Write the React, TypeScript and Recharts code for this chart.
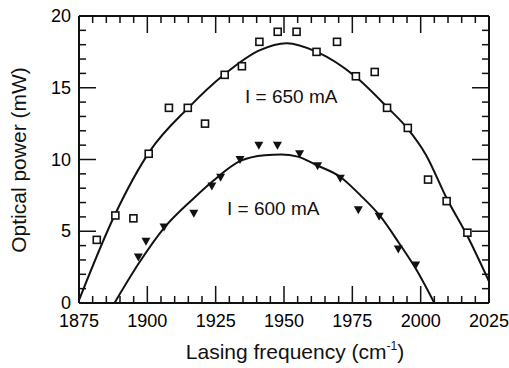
import { ComposedChart, Line, Scatter, XAxis, YAxis } from "recharts";

// measured points, I = 650 mA (squares)
const freq650 = [1881.5, 1888.3, 1894.9, 1900.5, 1907.9, 1914.8, 1921.1, 1928.3, 1934.6, 1941, 1947.7, 1954.6, 1961.9, 1969.4, 1976.3, 1983.2, 1987.7, 1995.3, 2002.7, 2009.5, 2017.1];
const power650 = [4.4, 6.1, 5.9, 10.4, 13.6, 13.6, 12.5, 15.9, 16.5, 18.2, 18.9, 18.9, 17.5, 18.2, 15.8, 16.1, 13.6, 12.2, 8.6, 7.1, 4.9];

// measured points, I = 600 mA (triangles)
const freq600 = [1896.7, 1899.5, 1906.1, 1917, 1923.6, 1926.8, 1933.9, 1940.8, 1947.6, 1955.7, 1962.3, 1970.6, 1977.2, 1984.8, 1991.8, 1998.2];
const power600 = [3.2, 4.3, 5.3, 6.25, 8.15, 8.76, 10.0, 11.0, 11.0, 10.4, 9.57, 8.7, 6.5, 6.04, 3.76, 2.65];

// fitted curves
const fit650X = [1875, 1888, 1901, 1915, 1928, 1941, 1951, 1962, 1976, 1988, 1995, 2002, 2009.5, 2017, 2025];
const fit650Y = [0.2, 6.1, 10.6, 13.6, 15.9, 17.6, 18.1, 17.5, 15.8, 13.6, 12.2, 10.3, 7.3, 4.7, 1.5];
const fit600X = [1888, 1897, 1906, 1917, 1924, 1934, 1943, 1949, 1955, 1962, 1970.5, 1978, 1985, 1992, 1998.5, 2005];
const fit600Y = [0, 2.8, 5.2, 7.3, 8.5, 9.9, 10.3, 10.35, 10.2, 9.6, 8.8, 7.5, 6.1, 4.2, 2.3, 0];

const xMajor = [1875, 1900, 1925, 1950, 1975, 2000, 2025];
const yMajor = [0, 5, 10, 15, 20];
const xTicks: number[] = [];
for (let v = 1875; v <= 2025; v += 5) xTicks.push(v);
const yTicks: number[] = [];
for (let v = 0; v <= 20; v += 1) yTicks.push(v);

const zip = (xs: number[], ys: number[]) => xs.map((x, i) => ({ x, y: ys[i] }));
const pts650 = zip(freq650, power650);
const pts600 = zip(freq600, power600);
const curve650 = zip(fit650X, fit650Y);
const curve600 = zip(fit600X, fit600Y);

const W = 509;
const H = 368;
const INK = "#111";
const FONT = "'Liberation Sans', Arial, sans-serif";
const X_DOMAIN = [1875, 2025];
const Y_DOMAIN = [0, 20];

// ticks point inward, so they are drawn by hand inside each custom tick
const bottomTick = (p: any) => {
	const major = xMajor.includes(p.payload.value);
	return (
		<g key={`b${p.payload.value}`}>
			<path d={`M${p.x},${p.y}V${p.y - (major ? 17 : 7)}`} stroke={INK} strokeWidth={1.5} fill="none" />
			{major && <text x={p.x} y={p.y + 24} textAnchor="middle" fontSize={18} fontFamily={FONT}>{p.payload.value}</text>}
		</g>
	);
};
const topTick = (p: any) => <path key={`t${p.payload.value}`} d={`M${p.x},${p.y}V${p.y + (xMajor.includes(p.payload.value) ? 17 : 7)}`} stroke={INK} strokeWidth={1.5} fill="none" />;
const leftTick = (p: any) => {
	const major = yMajor.includes(p.payload.value);
	return (
		<g key={`l${p.payload.value}`}>
			<path d={`M${p.x},${p.y}H${p.x + (major ? 17 : 7)}`} stroke={INK} strokeWidth={1.5} fill="none" />
			{major && <text x={p.x - 8} y={p.y + 6} textAnchor="end" fontSize={18} fontFamily={FONT}>{p.payload.value}</text>}
		</g>
	);
};
const rightTick = (p: any) => <path key={`r${p.payload.value}`} d={`M${p.x},${p.y}H${p.x - (yMajor.includes(p.payload.value) ? 17 : 7)}`} stroke={INK} strokeWidth={1.5} fill="none" />;

const squareMark = (p: any) => (
	<rect x={p.cx - 3.5} y={p.cy - 3.5} width={7} height={7} fill="#fff" stroke={INK} strokeWidth={1.6} />
);
const downTriangle = (p: any) => (
	<polygon points={`${p.cx - 4.5},${p.cy - 3.5} ${p.cx + 4.5},${p.cy - 3.5} ${p.cx},${p.cy + 4.5}`} fill={INK} />
);

const axisLine = { stroke: INK, strokeWidth: 2 };
const layer = { position: "absolute" as const, left: 0, top: 0 };

// the data layer: curves and markers, same plot box as the frame below
function DataChart() {
	return (
		<ComposedChart width={W} height={H} margin={{ top: 16, right: 20, bottom: 65, left: 79 }}>
			<XAxis dataKey="x" type="number" domain={X_DOMAIN} hide height={0} />
			<YAxis type="number" domain={Y_DOMAIN} hide width={0} />
			<Line data={curve650} dataKey="y" type="monotone" stroke={INK} strokeWidth={2} dot={false} isAnimationActive={false} />
			<Line data={curve600} dataKey="y" type="monotone" stroke={INK} strokeWidth={2} dot={false} isAnimationActive={false} />
			<Scatter data={pts650} dataKey="y" shape={squareMark} isAnimationActive={false} />
			<Scatter data={pts600} dataKey="y" shape={downTriangle} isAnimationActive={false} />
		</ComposedChart>
	);
}

// the frame layer: four axes with inward ticks and labels
function FrameChart() {
	return (
		<ComposedChart width={W} height={H} margin={{ top: 14, right: 18, bottom: 0, left: 0 }}>
			<XAxis xAxisId="b" dataKey="x" type="number" domain={X_DOMAIN} ticks={xTicks} interval={0} tickSize={0} tickMargin={0} tick={bottomTick} axisLine={axisLine} height={65} />
			<XAxis xAxisId="t" orientation="top" dataKey="x" type="number" domain={X_DOMAIN} ticks={xTicks} interval={0} tickSize={0} tickMargin={0} tick={topTick} axisLine={axisLine} height={2} />
			<YAxis yAxisId="l" type="number" domain={Y_DOMAIN} ticks={yTicks} interval={0} tickSize={0} tickMargin={0} tick={leftTick} axisLine={axisLine} width={79} />
			<YAxis yAxisId="r" orientation="right" type="number" domain={Y_DOMAIN} ticks={yTicks} interval={0} tickSize={0} tickMargin={0} tick={rightTick} axisLine={axisLine} width={2} />
			<Line data={pts650} dataKey="y" xAxisId="b" yAxisId="l" stroke="none" dot={false} activeDot={false} legendType="none" isAnimationActive={false} />
			<Line data={pts650} dataKey="y" xAxisId="t" yAxisId="r" stroke="none" dot={false} activeDot={false} legendType="none" isAnimationActive={false} />
		</ComposedChart>
	);
}

export default function App() {
	return (
		<div style={{ position: "absolute", left: 0, top: 0, width: W, height: H, background: "#fff" }}>
			<div style={{ position: "relative", width: W, height: H }}>
				<div style={layer}><DataChart /></div>
				<div style={layer}><FrameChart /></div>
				<svg width={W} height={H} style={{ ...layer, pointerEvents: "none" }}>
					<text x={245} y={103} fontSize={19} fontFamily={FONT} fill={INK}>I = 650 mA</text>
					<text x={227} y={215} fontSize={19} fontFamily={FONT} fill={INK}>I = 600 mA</text>
					<text x={295} y={359} textAnchor="middle" fontSize={21} fontFamily={FONT} fill={INK}>
						Lasing frequency (cm
						<tspan fontSize={12} dy={-9}>-1</tspan>
						<tspan dy={9}>)</tspan>
					</text>
					<text x={18} y={160} transform="rotate(-90 18 160)" textAnchor="middle" dominantBaseline="central" fontSize={21} fontFamily={FONT} fill={INK}>
						Optical power (mW)
					</text>
				</svg>
			</div>
		</div>
	);
}
